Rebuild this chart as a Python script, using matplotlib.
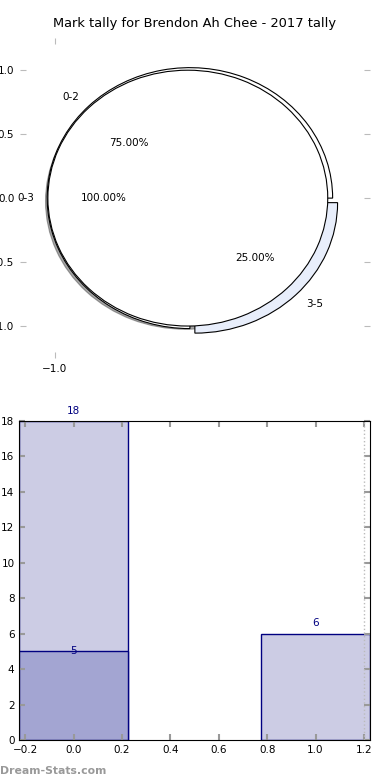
import matplotlib.pyplot as plt
from matplotlib.ticker import FuncFormatter
import numpy as np

# mark tally data
title = 'Mark tally for Brendon Ah Chee - 2017 tally'
outer_labels = ['0-2', '3-5']
outer_sizes = [18, 6]
outer_explode = [0.0, 0.05]
inner_labels = ['0-3']
inner_sizes = [24]

bar_pos = [0, 1]
bar_totals = [18, 6]
bar_sub = [5]
marker_x = 1.2


def fmt(v, pos):
    return ('%.1f' % v).replace('-', '\u2212')


fig = plt.figure(figsize=(3.9, 7.8), dpi=100)

# --- pie ---
ax1 = fig.add_axes([0.051, 0.541, 0.897, 0.410])
w, t, p = ax1.pie(outer_sizes, labels=outer_labels, explode=outer_explode,
                  autopct='%1.2f%%', radius=1.02, center=(-0.035, 0),
                  startangle=0, colors=['white', '#e8eefb'],
                  wedgeprops=dict(edgecolor='black', linewidth=0.8),
                  textprops=dict(fontsize=7.5))
w2, t2, p2 = ax1.pie(inner_sizes, labels=inner_labels, autopct='%1.2f%%',
                     radius=1.0, center=(-0.05, 0), startangle=0,
                     shadow={'ox': -0.012, 'oy': -0.018},
                     colors=['white'],
                     wedgeprops=dict(edgecolor='black', linewidth=0.8),
                     textprops=dict(fontsize=7.5))
ax1.set_aspect('auto')
ax1.set_xlim(-1.25, 1.25)
ax1.set_ylim(-1.25, 1.25)
ax1.set_frame_on(False)
ax1.set_xticks([-1.0])
ax1.set_yticks([-1.0, -0.5, 0.0, 0.5, 1.0])
ax1.xaxis.set_major_formatter(FuncFormatter(fmt))
ax1.yaxis.set_major_formatter(FuncFormatter(fmt))
ax1.tick_params(direction='in', color='#bbbbbb', labelsize=7.5, length=4,
                top=True, right=True, pad=4)
ax1.set_title(title, fontsize=9.4, pad=8)

# --- bars ---
ax2 = fig.add_axes([0.0495, 0.0513, 0.899, 0.409])
ax2.bar(bar_pos, bar_totals, width=0.45, color='#ccccE4',
        edgecolor='navy', linewidth=1)
ax2.bar(bar_pos[:1], bar_sub, width=0.45, color='#a3a5d2',
        edgecolor='navy', linewidth=1)
for x, v in zip(bar_pos, bar_totals):
    ax2.text(x, v + 0.3, str(v), ha='center', va='bottom', color='navy',
             fontsize=7.5)
ax2.text(bar_pos[0], bar_sub[0], str(bar_sub[0]), ha='center', va='center',
         color='navy', fontsize=7.5)
ax2.axvline(marker_x, color='#bbbbbb', linestyle=':', linewidth=1)
ax2.set_xlim(-0.225, 1.225)
ax2.set_ylim(0, 18)
ax2.set_xticks(np.arange(-0.2, 1.21, 0.2))
ax2.set_yticks(range(0, 19, 2))
ax2.tick_params(direction='in', color='#999999', labelsize=7.5, length=4,
                top=True, right=True, width=1.5)

fig.text(0.0, 0.008, 'Dream-Stats.com', color='#999999', fontsize=7.8,
         fontweight='bold')

fig.savefig('out.png', dpi=100)
